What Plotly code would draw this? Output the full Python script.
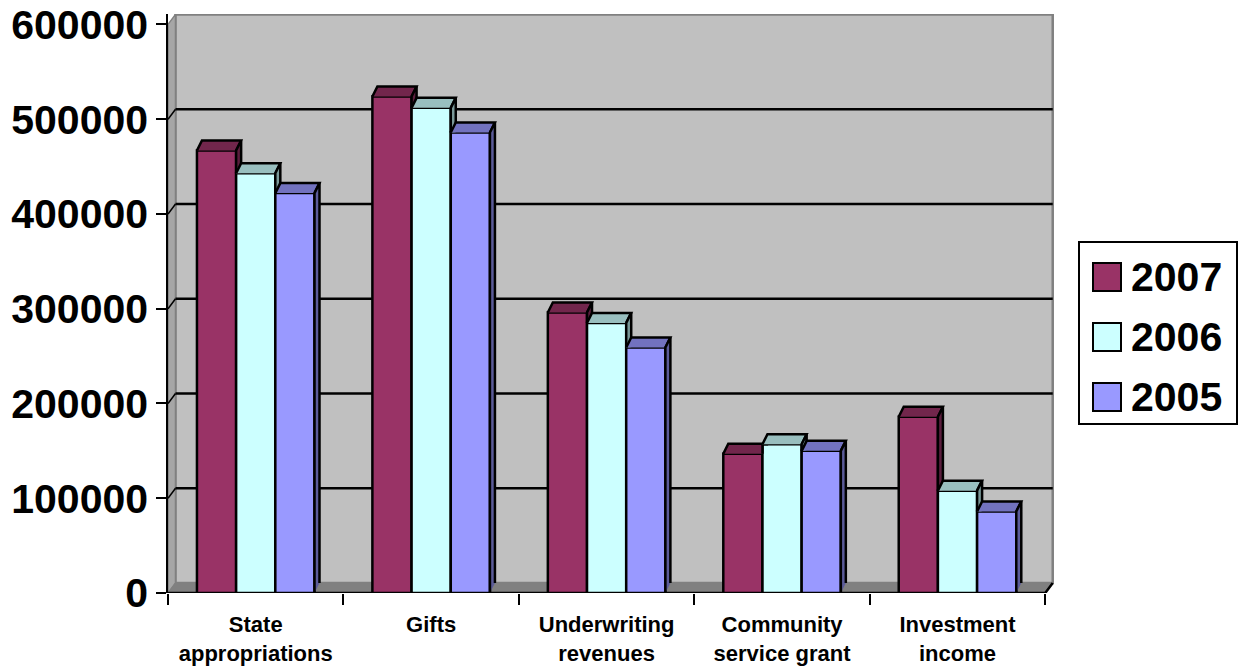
import plotly.graph_objects as go

# ---------------- data ----------------
categories = ["State<br>appropriations", "Gifts", "Underwriting<br>revenues",
              "Community<br>service grant", "Investment<br>income"]
series_names = ["2007", "2006", "2005"]
values_2007 = [467000, 524000, 296000, 147000, 186000]
values_2006 = [443000, 512000, 285000, 157000, 108000]
values_2005 = [422000, 486000, 259000, 150000, 86000]
y_ticks = [0, 100000, 200000, 300000, 400000, 500000, 600000]

# ---------------- style ----------------
front_colors = ["#993366", "#CCFFFF", "#9999FF"]
FONT = "Liberation Sans, Arial, sans-serif"
W, H = 1240, 671
ML, MR, MT, MB = 168, 186, 14, 78
X_RANGE = [-0.5, 4.55]
Y_RANGE = [0, 611000]
PX_PER_X = (W - ML - MR) / (X_RANGE[1] - X_RANGE[0])
PX_PER_Y = (H - MT - MB) / (Y_RANGE[1] - Y_RANGE[0])

bargap = 0.33
bw = (1 - bargap) / 3
bdx = 5 / PX_PER_X          # bar depth (x)
bdy = 10 / PX_PER_Y         # bar depth (y)
wdx = 7.5 / PX_PER_X        # wall depth (x)
wdy = 10 / PX_PER_Y         # wall depth (y)


def shade(hexcol, f):
    h = hexcol.lstrip("#")
    r, g, b = (int(h[i:i + 2], 16) for i in (0, 2, 4))
    return "#%02x%02x%02x" % (int(r * f), int(g * f), int(b * f))


series = [values_2007, values_2006, values_2005]
n = len(categories)
x_idx = list(range(n))

fig = go.Figure()

# front faces (real bars)
for j, vals in enumerate(series):
    fig.add_trace(go.Bar(
        x=x_idx, y=vals, name=series_names[j],
        width=bw, offset=-(1 - bargap) / 2 + j * bw,
        marker=dict(color=front_colors[j], line=dict(color="black", width=2.5)),
        showlegend=False,
        hovertemplate="%{y}<extra>" + series_names[j] + "</extra>",
    ))

# top and side faces (pseudo 3D), derived from the data values
for j, vals in enumerate(series):
    tx, ty, sx, sy = [], [], [], []
    for i in range(n):
        v = vals[i]
        xl = i - (1 - bargap) / 2 + j * bw
        xr = xl + bw
        nxt = series[j + 1][i] if j < len(series) - 1 else None
        # top face
        if nxt is not None and nxt > v:
            if nxt >= v + bdy:
                pts = [(xl, v), (xl + bdx, v + bdy), (xr, v + bdy), (xr, v)]
            else:
                xc = xr + bdx * (nxt - v) / bdy
                pts = [(xl, v), (xl + bdx, v + bdy), (xr + bdx, v + bdy),
                       (xc, nxt), (xr, nxt), (xr, v)]
        else:
            pts = [(xl, v), (xl + bdx, v + bdy), (xr + bdx, v + bdy), (xr, v)]
        for p in pts:
            tx.append(p[0]); ty.append(p[1])
        tx.append(None); ty.append(None)
        # side face
        if nxt is None:
            spts = [(xr, 0), (xr, v), (xr + bdx, v + bdy), (xr + bdx, bdy)]
        elif nxt >= v + bdy:
            spts = []
        elif nxt > v:
            xc = xr + bdx * (nxt - v) / bdy
            spts = [(xc, nxt), (xr + bdx, v + bdy), (xr + bdx, nxt)]
        else:
            spts = [(xr, nxt), (xr, v), (xr + bdx, v + bdy), (xr + bdx, nxt)]
        if spts:
            for p in spts:
                sx.append(p[0]); sy.append(p[1])
            sx.append(None); sy.append(None)
    fig.add_trace(go.Scatter(x=tx, y=ty, mode="lines", fill="toself",
                             fillcolor=shade(front_colors[j], 0.75),
                             line=dict(color="black", width=2.5),
                             hoverinfo="skip", showlegend=False))
    fig.add_trace(go.Scatter(x=sx, y=sy, mode="lines", fill="toself",
                             fillcolor=shade(front_colors[j], 0.6),
                             line=dict(color="black", width=2.5),
                             hoverinfo="skip", showlegend=False))

# ---------------- walls / floor ----------------
x0, x1 = -0.5, 4.5
ytop = y_ticks[-1]
shapes = []


def path(pts):
    return "M " + " L ".join("%f,%f" % p for p in pts) + " Z"


# back wall
shapes.append(dict(type="rect", xref="x", yref="y", layer="below",
                   x0=x0 + wdx, x1=x1 + wdx, y0=wdy, y1=ytop + wdy,
                   fillcolor="#c0c0c0", line=dict(color="#808080", width=2.5)))
# left wall
shapes.append(dict(type="path", xref="x", yref="y", layer="below",
                   path=path([(x0, 0), (x0, ytop), (x0 + wdx, ytop + wdy), (x0 + wdx, wdy)]),
                   fillcolor="#a6a6a6", line=dict(color="#808080", width=1.5)))
# floor
shapes.append(dict(type="path", xref="x", yref="y", layer="below",
                   path=path([(x0, 0), (x1, 0), (x1 + wdx, wdy), (x0 + wdx, wdy)]),
                   fillcolor="#808080", line=dict(color="#808080", width=1)))
# gridlines on back wall + left wall
for t in y_ticks[1:-1]:
    shapes.append(dict(type="line", xref="x", yref="y", layer="below",
                       x0=x0 + wdx, x1=x1 + wdx, y0=t + wdy, y1=t + wdy,
                       line=dict(color="black", width=2.5)))
    shapes.append(dict(type="line", xref="x", yref="y", layer="below",
                       x0=x0, x1=x0 + wdx, y0=t, y1=t + wdy,
                       line=dict(color="black", width=1.5)))
# front baseline
shapes.append(dict(type="path", xref="x", yref="y", layer="below",
                   path="M %f,0 L %f,0 L %f,%f" % (x0, x1, x1 + wdx, wdy),
                   line=dict(color="black", width=2.5)))

# ---------------- manual legend ----------------
def pxx(px):
    return (px - ML) / (W - ML - MR)


def pxy(py):
    return (H - MB - py) / (H - MT - MB)


shapes.append(dict(type="rect", xref="paper", yref="paper", layer="above",
                   x0=pxx(1079), x1=pxx(1237), y0=pxy(424), y1=pxy(242),
                   fillcolor="white", line=dict(color="black", width=2)))
annotations = []
for j, name in enumerate(series_names):
    cy = 277 + 60 * j
    shapes.append(dict(type="rect", xref="paper", yref="paper", layer="above",
                       x0=pxx(1093), x1=pxx(1121), y0=pxy(cy + 14), y1=pxy(cy - 14),
                       fillcolor=front_colors[j], line=dict(color="black", width=2)))
    annotations.append(dict(xref="paper", yref="paper", x=pxx(1129), y=pxy(cy),
                            xanchor="left", yanchor="middle", text="<b>%s</b>" % name,
                            showarrow=False, font=dict(family=FONT, size=41, color="black")))

fig.update_layout(
    width=W, height=H,
    margin=dict(l=ML, r=MR, t=MT, b=MB, pad=0),
    paper_bgcolor="white", plot_bgcolor="white",
    barmode="overlay",
    shapes=shapes, annotations=annotations,
    showlegend=False,
    font=dict(family=FONT, color="black"),
    xaxis=dict(range=X_RANGE, tickmode="array", tickvals=x_idx,
               ticktext=["<b>%s</b>" % c for c in categories],
               ticks="", showgrid=False, zeroline=False, showline=False,
               automargin=False, ticklabelstandoff=16,
               tickfont=dict(family=FONT, size=22, color="black"),
               minor=dict(tickmode="array", tickvals=[k - 0.5 for k in range(n + 1)],
                          ticks="outside", ticklen=11, tickwidth=2, tickcolor="black",
                          showgrid=False)),
    yaxis=dict(range=Y_RANGE, tickmode="array", tickvals=y_ticks,
               ticktext=["<b>%d</b>" % t for t in y_ticks],
               ticks="outside", ticklen=10, tickwidth=2, tickcolor="black",
               showgrid=False, zeroline=False, showline=True, automargin=False,
               linecolor="black", linewidth=1.5,
               tickfont=dict(family=FONT, size=41, color="black")),
)

fig.write_html("out.html", config={"displayModeBar": False},
               post_script="document.body.style.margin='0';")
